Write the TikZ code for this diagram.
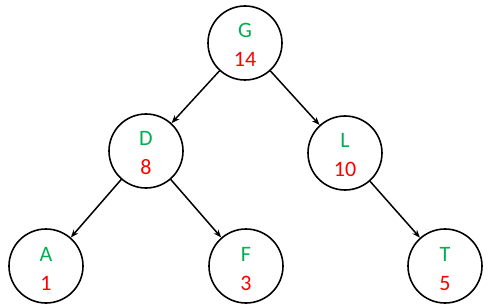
\documentclass[tikz,border=0pt]{standalone}
\usepackage{fontspec}
\setmainfont{Carlito}
\usetikzlibrary{arrows.meta}
\definecolor{lblgreen}{RGB}{0,176,80}
\definecolor{lblred}{RGB}{255,0,0}
\begin{document}
\begin{tikzpicture}[x=1pt,y=-1pt,
  treenode/.style={circle,draw=black,line width=1.6pt,minimum size=74pt,inner sep=0pt},
  keytext/.style={anchor=base,inner sep=0pt,text=lblgreen,font=\fontsize{22}{24}\selectfont},
  valtext/.style={anchor=base,inner sep=0pt,text=lblred,font=\fontsize{22}{24}\selectfont},
  edge/.style={line width=1.5pt,-{Stealth[length=8pt,width=6pt]}}]
\useasboundingbox (0,0) rectangle (492,307);
\newcommand{\tnode}[4]{%
  \node[treenode] (#1) at (#2) {};
  \node[keytext] (#1k) at ([yshift=5pt]#1.center) {#3};
  \node[valtext] (#1v) at ([yshift=-24pt]#1.center) {#4};}
\tnode{G}{245,43}{G}{14}
\tnode{D}{146,151}{D}{8}
\tnode{L}{345,153}{L}{10}
\tnode{A}{46,266}{A}{1}
\tnode{F}{246,266}{F}{3}
\tnode{T}{445,266}{T}{5}
\draw[edge] (G) -- (D);
\draw[edge] (G) -- (L);
\draw[edge] (D) -- (A);
\draw[edge] (D) -- (F);
\draw[edge] (L) -- (T);
\end{tikzpicture}
\end{document}
